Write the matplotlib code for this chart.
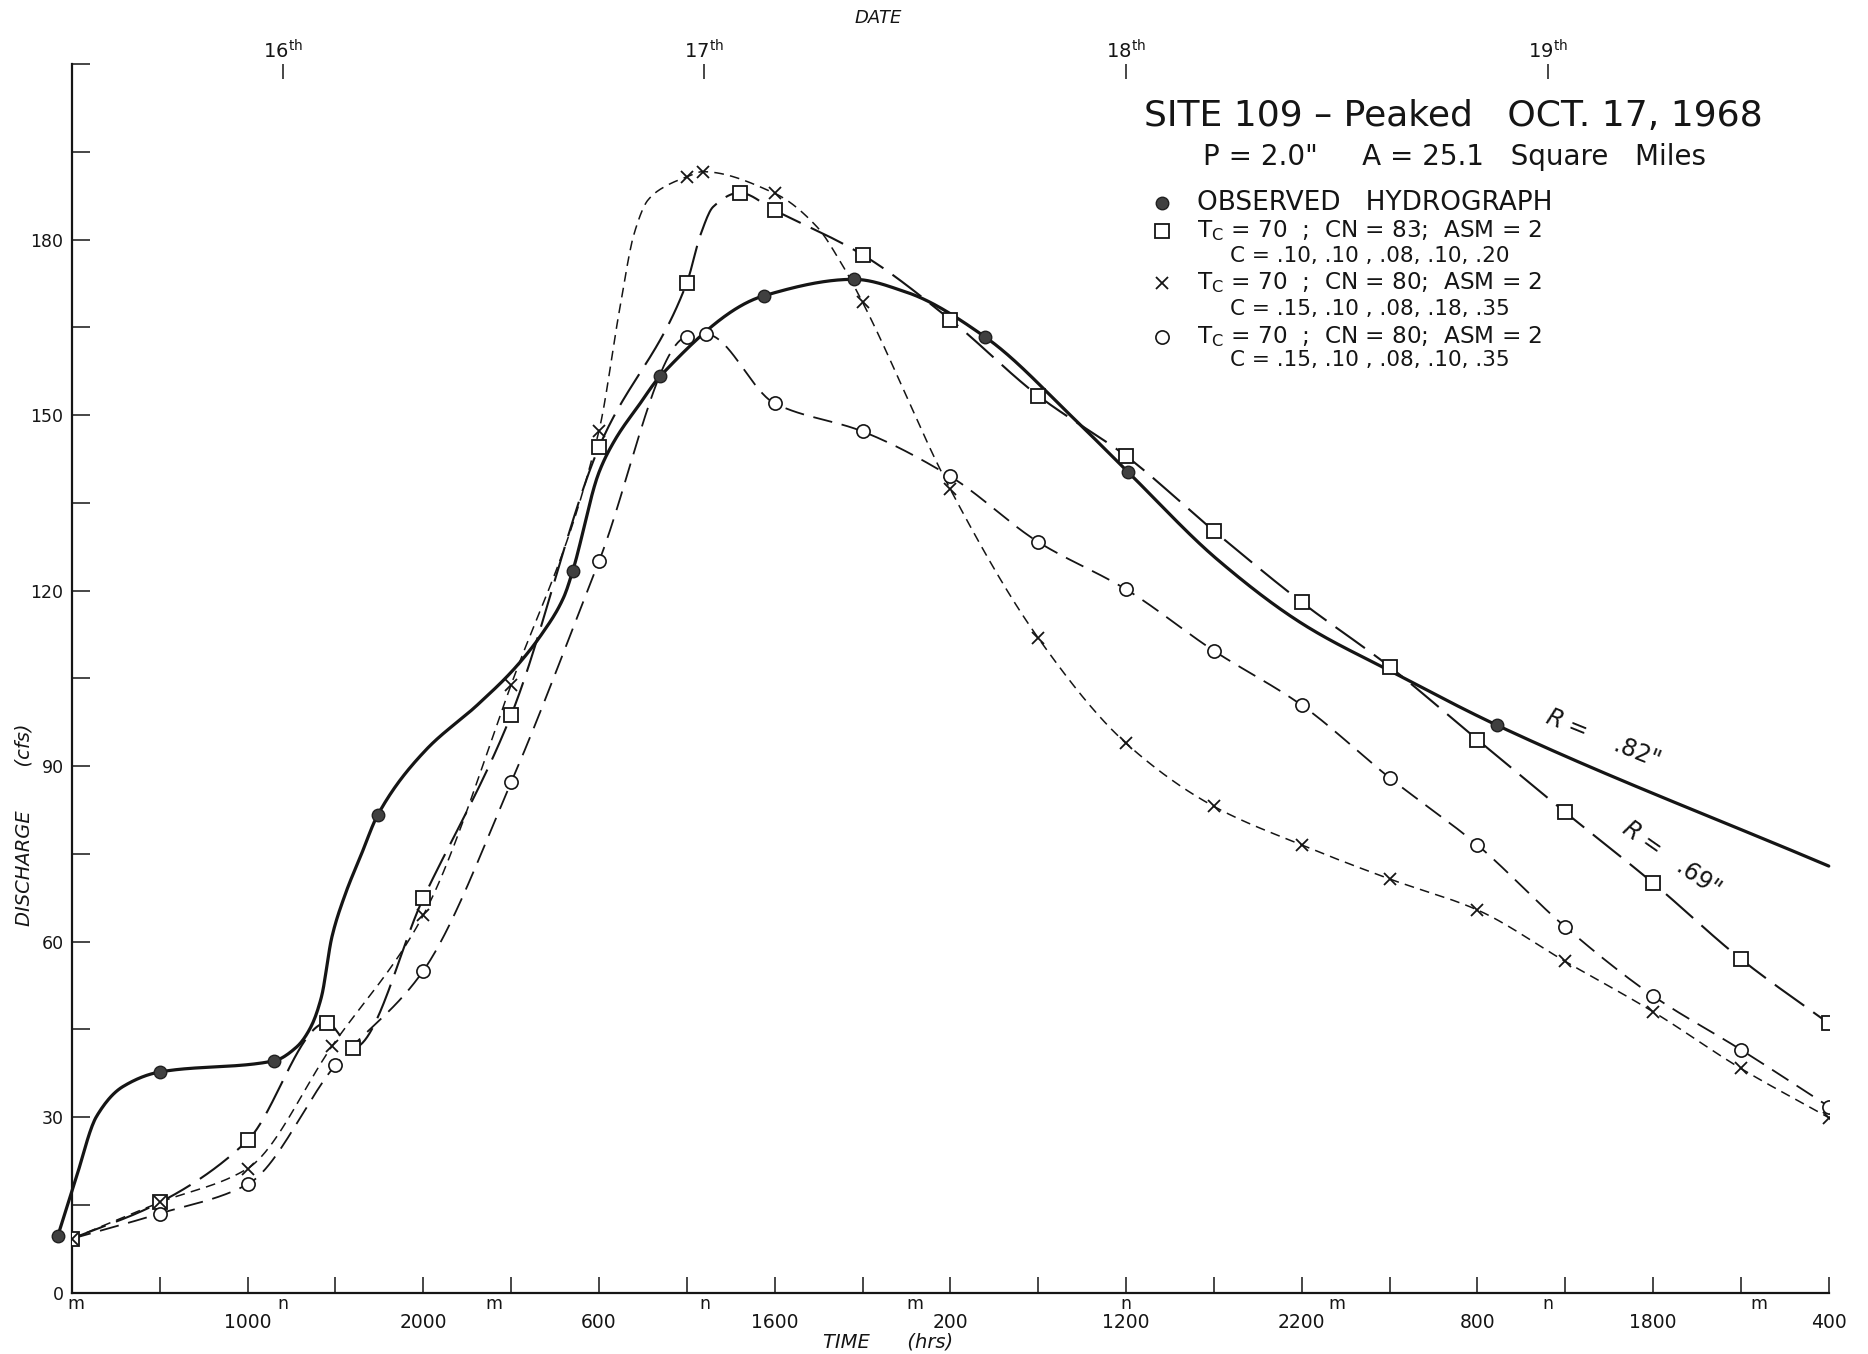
import numpy as np
import matplotlib
matplotlib.use("Agg")
import matplotlib.pyplot as plt
from matplotlib.lines import Line2D

plt.rcParams['font.family'] = ['DejaVu Sans']
plt.rcParams['lines.scale_dashes'] = False
plt.rcParams['mathtext.default'] = 'regular'

# ---- data (hours from midnight Oct 16, discharge in cfs) ----
obs_t = [-0.8, 5.0, 11.5, 17.4, 28.5, 33.5, 39.4, 44.5, 52.0, 60.1, 81.1]
obs_q = [9.7, 37.7, 39.6, 81.6, 123.3, 156.7, 170.4, 173.2, 163.3, 140.3, 97.0]
# unmarked points
obs_curve_t = [0.2, 1.4, 2.9, 12.8, 13.6, 14.2, 14.8, 15.5, 16.5, 20.1, 23.1, 25.2,
               26.8, 28.0, 30.0, 30.9, 32.3, 47.5, 57.1, 65.2, 70.1, 75.2, 100.0]
obs_curve_q = [19.2, 30.1, 35.2, 42.0, 45.4, 50.5, 60.8, 67.6, 75.1, 92.6, 100.5, 106.7,
               112.8, 118.9, 140.2, 145.7, 151.8, 171.0, 149.2, 125.3, 114.2, 106.0, 72.9]

sq_t = [0, 5, 10, 14.5, 16, 20, 25, 30, 35, 38, 40, 45, 50, 55, 60, 65, 70, 75, 80, 85, 90, 95, 100]
sq_q = [9.2, 15.4, 26.0, 46.1, 41.8, 67.4, 98.7, 144.5, 172.6, 188.0, 185.0, 177.4, 166.3,
        153.3, 143.0, 130.2, 118.0, 107.0, 94.5, 82.1, 70.0, 57.0, 46.0]
sq_curve_t = [35.8, 36.5]
sq_curve_q = [181.0, 185.6]

x_t = [0, 5, 10, 14.8, 20, 25, 30, 35, 35.9, 40, 45, 50, 55, 60, 65, 70, 75, 80, 85, 90, 95, 100]
x_q = [9.2, 15.4, 21.2, 42.1, 64.5, 103.9, 147.3, 190.7, 191.6, 187.9, 169.3, 137.3, 111.9,
       93.9, 83.1, 76.5, 70.7, 65.4, 56.6, 48.0, 38.3, 29.9]
x_curve_t = [31.2, 32.0, 32.8, 33.9, 42.4, 43.8]
x_curve_q = [168.5, 181.0, 186.8, 189.3, 182.2, 175.9]

c_t = [0, 5, 10, 15, 20, 25, 30, 35, 36.1, 40, 45, 50, 55, 60, 65, 70, 75, 80, 85, 90, 95, 100]
c_q = [9.2, 13.5, 18.5, 38.9, 55.0, 87.2, 125.0, 163.4, 163.8, 152.0, 147.2, 139.5, 128.3,
       120.2, 109.7, 100.4, 88.0, 76.5, 62.5, 50.7, 41.5, 31.8]

hour_labels = ['', '', '1000', '', '2000', '', '600', '', '1600', '', '200', '',
               '1200', '', '2200', '', '800', '', '1800', '', '400']
mn_t = [0, 12, 24, 36, 48, 60, 72, 84, 96]
mn_labels = ['m', 'n', 'm', 'n', 'm', 'n', 'm', 'n', 'm']
date_t = [12, 36, 60, 84]
date_labels = ['16$^{th}$', '17$^{th}$', '18$^{th}$', '19$^{th}$']

legend_rows = [
    ('OBSERVED   HYDROGRAPH', None),
    ('T$_C$ = 70  ;  CN = 83;  ASM = 2', 'C = .10, .10 , .08, .10, .20'),
    ('T$_C$ = 70  ;  CN = 80;  ASM = 2', 'C = .15, .10 , .08, .18, .35'),
    ('T$_C$ = 70  ;  CN = 80;  ASM = 2', 'C = .15, .10 , .08, .10, .35'),
]


def pchip(x, y, xs):
    x = np.asarray(x, float)
    y = np.asarray(y, float)
    h = np.diff(x)
    d = np.diff(y) / h
    n = len(x)
    m = np.zeros(n)
    for k in range(1, n - 1):
        if d[k - 1] * d[k] > 0:
            w1 = 2 * h[k] + h[k - 1]
            w2 = h[k] + 2 * h[k - 1]
            m[k] = (w1 + w2) / (w1 / d[k - 1] + w2 / d[k])
    m[0] = d[0]
    m[-1] = d[-1]
    i = np.clip(np.searchsorted(x, xs) - 1, 0, n - 2)
    s = (xs - x[i]) / h[i]
    h00 = 2 * s**3 - 3 * s**2 + 1
    h10 = s**3 - 2 * s**2 + s
    h01 = -2 * s**3 + 3 * s**2
    h11 = s**3 - s**2
    return h00 * y[i] + h10 * h[i] * m[i] + h01 * y[i + 1] + h11 * h[i] * m[i + 1]


def smooth(t, q, extra_t=(), extra_q=()):
    tt = np.array(list(t) + list(extra_t), float)
    qq = np.array(list(q) + list(extra_q), float)
    order = np.argsort(tt)
    tt, qq = tt[order], qq[order]
    ts = np.linspace(tt[0], tt[-1], 1500)
    return ts, pchip(tt, qq, ts)


fig = plt.figure(figsize=(18.68, 13.54), dpi=100)
ax = fig.add_axes([0.0385, 0.0454, 0.9405, 0.9073])
ax.set_xlim(0, 100)
ax.set_ylim(0, 210)

ink = '#151515'

# curves
ts, qs = smooth(obs_t, obs_q, obs_curve_t, obs_curve_q)
ax.plot(ts, qs, color=ink, lw=2.3, solid_capstyle='round', clip_on=False, zorder=3)
ts, qs = smooth(sq_t, sq_q, sq_curve_t, sq_curve_q)
ax.plot(ts, qs, color=ink, lw=1.5, dashes=(26, 8), zorder=2)
ts, qs = smooth(x_t, x_q, x_curve_t, x_curve_q)
ax.plot(ts, qs, color=ink, lw=1.1, dashes=(7, 4.5), zorder=2)
ts, qs = smooth(c_t, c_q)
ax.plot(ts, qs, color=ink, lw=1.3, dashes=(14, 7), zorder=2)

# markers
ax.plot(obs_t, obs_q, ls='none', marker='o', ms=9, mfc='#404040', mec='#202020', mew=1,
        clip_on=False, zorder=6)
ax.plot(sq_t, sq_q, ls='none', marker='s', ms=10, mfc='white', mec=ink, mew=1.3, zorder=4)
ax.plot(c_t[1:], c_q[1:], ls='none', marker='o', ms=9.5, mfc='white', mec=ink, mew=1.2, zorder=4)
ax.plot(x_t, x_q, ls='none', marker='x', ms=8.5, mec=ink, mew=1.3, zorder=5)

# axes styling
for side in ['top', 'right']:
    ax.spines[side].set_visible(False)
for side in ['left', 'bottom']:
    ax.spines[side].set_linewidth(1.6)
    ax.spines[side].set_color(ink)

ax.set_xticks(np.arange(0, 101, 5))
ax.set_xticklabels(hour_labels)
ax.tick_params(axis='x', direction='in', length=11.5, width=1.1, pad=15, labelsize=13.5, colors=ink)
ax.set_yticks(np.arange(0, 211, 30))
ax.set_yticklabels([str(v) if v <= 180 else '' for v in range(0, 211, 30)])
ax.set_yticks(np.arange(15, 200, 30), minor=True)
ax.tick_params(axis='y', which='both', direction='in', length=13, width=1.1, pad=6,
               labelsize=12.5, colors=ink)

for t, lab in zip(mn_t, mn_labels):
    ax.annotate(lab, xy=(t, 0), xycoords=('data', 'axes fraction'), xytext=(3 if t == 0 else 0, -2),
                textcoords='offset points', ha='center', va='top', fontsize=12.5, color=ink)

sec = ax.secondary_xaxis('top')
sec.set_xticks(date_t)
sec.set_xticklabels(date_labels)
sec.spines['top'].set_visible(False)
sec.tick_params(direction='in', length=11, width=1.1, pad=1, labelsize=14, colors=ink)

fig.text(0.470, 0.9867, 'DATE', ha='center', va='center', fontsize=13, style='italic', color=ink)
fig.text(0.4754, 0.0085, 'TIME      (hrs)', ha='center', va='center', fontsize=14, style='italic', color=ink)
fig.text(0.0128, 0.3907, 'DISCHARGE       (cfs)', ha='center', va='center', rotation=90,
         fontsize=14, style='italic', color=ink)

# title block
fig.text(0.7778, 0.9143, 'SITE 109 \u2013 Peaked   OCT. 17, 1968', ha='center', va='center',
         fontsize=26, color=ink)
fig.text(0.7789, 0.8840, 'P = 2.0"     A = 25.1   Square   Miles', ha='center', va='center',
         fontsize=20, color=ink)

# legend
key_x = 0.622
txt_x = 0.6408
sub_x = 0.6585
row_y = [0.8503, 0.8296, 0.7912, 0.7513]
sub_y = [None, 0.8112, 0.7715, 0.7341]
key_styles = [
    dict(marker='o', ms=9, mfc='#404040', mec='#202020', mew=1),
    dict(marker='s', ms=10, mfc='white', mec=ink, mew=1.3),
    dict(marker='x', ms=9, mec=ink, mew=1.3),
    dict(marker='o', ms=9.5, mfc='white', mec=ink, mew=1.2),
]
for (line1, line2), y1, y2, sty in zip(legend_rows, row_y, sub_y, key_styles):
    fig.add_artist(Line2D([key_x], [y1], ls='none', transform=fig.transFigure, **sty))
    fs = 19 if line2 is None else 16.7
    fig.text(txt_x, y1, line1, ha='left', va='center', fontsize=fs, color=ink)
    if line2:
        fig.text(sub_x, y2, line2, ha='left', va='center', fontsize=15.5, color=ink)

# curve annotations
ax.text(87.1, 94.8, r'$\it{R}$ =    .82"', rotation=-22, ha='center', va='center',
        rotation_mode='anchor', fontsize=17, color=ink)
ax.text(91.0, 74.2, r'$\it{R}$ =   .69"', rotation=-35, ha='center', va='center',
        rotation_mode='anchor', fontsize=17, color=ink)

fig.savefig('out.png', dpi=100)
